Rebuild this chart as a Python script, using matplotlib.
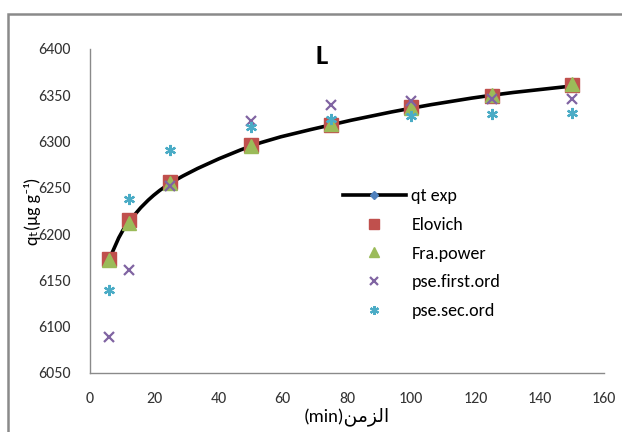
import matplotlib
matplotlib.use("Agg")
import matplotlib.pyplot as plt
from matplotlib.patches import Rectangle, PathPatch
from matplotlib.path import Path
from matplotlib.lines import Line2D

plt.rcParams['font.family'] = ['Carlito', 'DejaVu Sans']

time_min = [6, 12, 25, 50, 75, 100, 125, 150]
qt_exp = [6173, 6213, 6255, 6295, 6318, 6336, 6350, 6360]
elovich = [6173, 6215, 6256, 6296, 6318, 6337, 6349, 6361]
fra_power = [6172, 6212, 6255, 6295, 6319, 6336, 6350, 6362]
pse_first = [6089, 6161, 6252, 6322, 6339, 6344, 6346, 6346]
pse_sec = [6140, 6238, 6291, 6316, 6324, 6328, 6330, 6331]

x_ticks = [0, 20, 40, 60, 80, 100, 120, 140, 160]
y_ticks = [6050, 6100, 6150, 6200, 6250, 6300, 6350, 6400]

fig = plt.figure(figsize=(6.22, 4.32), dpi=100)
ax = fig.add_axes([90/622, 1-373/432, (604-90)/622, (373-49)/432])

# outer chart frame
fig.patches.append(Rectangle((8/622, -0.05), 1.1, 1-14/432+0.05, transform=fig.transFigure,
                             fill=False, edgecolor='#8a8a8a', linewidth=1.8, zorder=0))

# smoothed line through qt exp (Excel-style Catmull-Rom -> cubic Bezier)
pts = list(zip(time_min, qt_exp))
verts = [pts[0]]
codes = [Path.MOVETO]
n = len(pts)
for i in range(n - 1):
    p0 = pts[i - 1] if i > 0 else pts[i]
    p1 = pts[i]
    p2 = pts[i + 1]
    p3 = pts[i + 2] if i + 2 < n else pts[i + 1]
    c1 = (p1[0] + (p2[0] - p0[0]) / 6, p1[1] + (p2[1] - p0[1]) / 6)
    c2 = (p2[0] - (p3[0] - p1[0]) / 6, p2[1] - (p3[1] - p1[1]) / 6)
    verts += [c1, c2, p2]
    codes += [Path.CURVE4, Path.CURVE4, Path.CURVE4]
ax.add_patch(PathPatch(Path(verts, codes), facecolor='none', edgecolor='black',
                       linewidth=2.6, zorder=2, capstyle='round'))
ax.plot(time_min, qt_exp, linestyle='none', marker='D', markersize=5,
        markerfacecolor='#4F81BD', markeredgecolor='#4F81BD', zorder=2)

ax.plot(time_min, elovich, linestyle='none', marker='s', markersize=9.5,
        color='#C0504D', label='Elovich', zorder=3)
ax.plot(time_min, fra_power, linestyle='none', marker='^', markersize=9.5,
        color='#9BBB59', label='Fra.power', zorder=4)
ax.plot(time_min, pse_first, linestyle='none', marker='x', markersize=7, markeredgewidth=1.6,
        color='#8064A2', label='pse.first.ord', zorder=5)
ax.plot(time_min, pse_sec, linestyle='none', marker=(6, 2, 0), markersize=8, markeredgewidth=1.6,
        color='#4BACC6', label='pse.sec.ord', zorder=6)

ax.set_xlim(0, 160)
ax.set_ylim(6050, 6400)
ax.set_xticks(x_ticks)
ax.set_yticks(y_ticks)
ax.tick_params(length=0, labelsize=11.5, colors='#333333')
ax.tick_params(axis='y', pad=14)
ax.tick_params(axis='x', pad=14)
for s in ['top', 'right']:
    ax.spines[s].set_visible(False)
for s in ['left', 'bottom']:
    ax.spines[s].set_color('#8a8a8a')
    ax.spines[s].set_linewidth(1.0)

ax.set_xlabel('(min)\ufee6\ufee3\ufeb0\ufedf\ufe8d', fontsize=13.5, labelpad=1,
              family=['Carlito', 'DejaVu Sans'])
ax.set_ylabel('q\u209c(\u03bcg g\u207b\u00b9)', fontsize=13, labelpad=-2,
              family=['Carlito', 'DejaVu Sans'])

ax.text(72, 6392, 'L', fontsize=21, fontweight='bold', ha='center', va='center')

h_exp = Line2D([], [], color='black', linewidth=2.6, marker='D', markersize=5,
               markerfacecolor='#4F81BD', markeredgecolor='#4F81BD')
handles, labels = ax.get_legend_handles_labels()
leg = ax.legend([h_exp] + handles, ['qt exp'] + labels,
                loc='upper left', bbox_to_anchor=(0.46, 0.62), frameon=False,
                fontsize=13, handlelength=3.5, labelspacing=0.7, markerscale=0.8,
                handletextpad=0.3)

fig.savefig('out.png', dpi=100)
